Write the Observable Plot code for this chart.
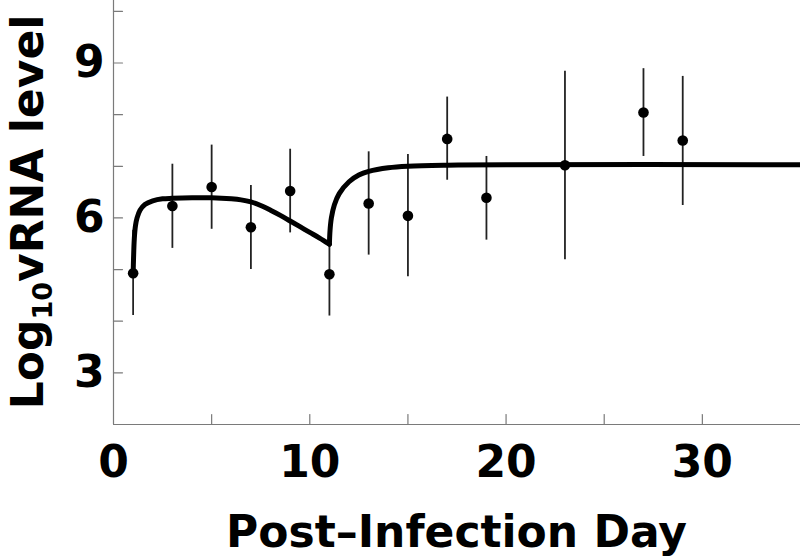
<!DOCTYPE html>
<html>
<head>
<meta charset="utf-8">
<script src="https://cdn.jsdelivr.net/npm/d3@7"></script>
<script src="https://cdn.jsdelivr.net/npm/@observablehq/plot@0.6"></script>
<style>
  html, body { margin: 0; padding: 0; background: #fff; }
  #chart { width: 800px; height: 557px; }
</style>
</head>
<body>
<div id="chart"></div>
<script>
const days  = [1, 3, 5, 7, 9, 11, 13, 15, 17, 19, 23, 27, 29];
const vrna  = [4.93, 6.23, 6.60, 5.82, 6.52, 4.91, 6.28, 6.04, 7.53, 6.39, 7.02, 8.04, 7.50];
const lower = [4.11, 5.41, 5.78, 5.00, 5.71, 4.10, 5.28, 4.86, 6.73, 5.57, 5.19, 7.19, 6.24];
const upper = [5.76, 7.04, 7.41, 6.63, 7.33, 5.73, 7.28, 7.23, 8.34, 7.19, 8.84, 8.89, 8.74];

// Fitted curve, phase 1 (days 1–11) and phase 2 (day 11 onward)
const fitDay1   = [1.0, 1.02, 1.06, 1.12, 1.2, 1.35, 1.6, 2.0, 2.5, 3, 4, 5, 6, 6.5, 7, 7.5, 8, 8.5, 9, 9.5, 10, 10.5, 11];
const fitLevel1 = [4.92, 5.2, 5.6, 5.85, 6.0, 6.15, 6.26, 6.33, 6.37, 6.38, 6.39, 6.39, 6.37, 6.35, 6.31, 6.24, 6.15, 6.05, 5.94, 5.83, 5.72, 5.61, 5.49];
const fitDay2   = [11, 11.03, 11.1, 11.25, 11.5, 12, 12.5, 13, 14, 15, 17, 20, 35];
const fitLevel2 = [5.49, 5.75, 6.0, 6.25, 6.47, 6.7, 6.83, 6.9, 6.97, 7.0, 7.02, 7.03, 7.03];

// Axis ticks
const xTickMarks  = [5, 10, 15, 20, 25, 30];
const xTickLabels = [0, 10, 20, 30];
const yTickMarks  = [3, 4, 5, 6, 7, 8, 9, 10];
const yTickLabels = [3, 6, 9];

const xTitle = "Post\u2013Infection Day";

const obs = days.map((d, i) => ({day: d, level: vrna[i], lo: lower[i], hi: upper[i]}));
const fit = [
  ...fitDay1.map((d, i) => ({day: d, level: fitLevel1[i], phase: 1})),
  ...fitDay2.map((d, i) => ({day: d, level: fitLevel2[i], phase: 2}))
];

const axisGray = "#7a7a7a";
const font = "DejaVu Sans, Verdana, sans-serif";
const tickShape = {draw(ctx, l) { ctx.moveTo(0, 0); ctx.lineTo(0, -l); }};

const svg = Plot.plot({
  width: 800,
  height: 557,
  marginLeft: 113,
  marginRight: 0,
  marginTop: 0,
  marginBottom: 133,
  style: {background: "#fff", fontFamily: font},
  x: {domain: [0, 35]},
  y: {domain: [2, 10.21]},
  marks: [
    Plot.ruleX([0], {stroke: axisGray, strokeWidth: 1.2}),
    Plot.ruleY([2], {stroke: axisGray, strokeWidth: 1.2}),
    Plot.vector(xTickMarks, {x: d => d, frameAnchor: "bottom", length: 10, rotate: 0, anchor: "start", shape: tickShape, stroke: axisGray, strokeWidth: 1.2}),
    Plot.vector(yTickMarks, {y: d => d, frameAnchor: "left", length: 9, rotate: 90, anchor: "start", shape: tickShape, stroke: axisGray, strokeWidth: 1.2}),
    Plot.axisX(xTickLabels, {tickSize: 0, tickPadding: 21, tickFormat: d3.format("d"), fontSize: 44, fontWeight: "bold", fontFamily: font, fill: "black", label: null}),
    Plot.axisY(yTickLabels, {tickSize: 0, tickPadding: 9, tickFormat: d3.format("d"), fontSize: 44, fontWeight: "bold", fontFamily: font, fill: "black", label: null}),
    Plot.ruleX(obs, {x: "day", y1: "lo", y2: "hi", stroke: "#222", strokeWidth: 1.8}),
    Plot.line(fit, {x: "day", y: "level", z: "phase", curve: "catmull-rom", stroke: "black", strokeWidth: 5, strokeLinejoin: "round"}),
    Plot.dot(obs, {x: "day", y: "level", r: 5.3, fill: "black"})
  ]
});

const s = d3.select(svg);
// y-axis title with subscript
const yt = s.append("text")
  .attr("transform", "translate(43,212) rotate(-90)")
  .attr("text-anchor", "middle")
  .attr("font-family", font)
  .attr("font-weight", "bold")
  .attr("font-size", 44)
  .attr("fill", "black");
yt.append("tspan").text("Log");
yt.append("tspan").attr("font-size", 27).attr("dy", 9).text("10");
yt.append("tspan").attr("dy", -9).text("vRNA level");

// x-axis title
s.append("text")
  .attr("x", 456.5)
  .attr("y", 547)
  .attr("text-anchor", "middle")
  .attr("font-family", font)
  .attr("font-weight", "bold")
  .attr("font-size", 44)
  .attr("fill", "black")
  .text(xTitle);

document.getElementById("chart").appendChild(svg);
</script>
</body>
</html>
